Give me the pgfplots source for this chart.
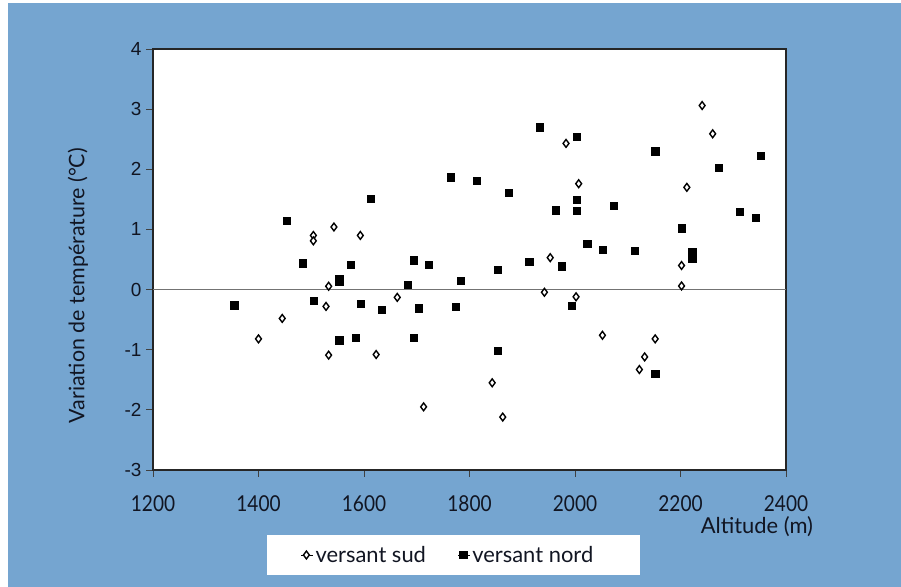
\documentclass[border=0pt]{standalone}
\usepackage{pgfplots}
\pgfplotsset{compat=1.18}
\usepackage{fontspec}
\setmainfont{Lato}
\newfontfamily\arial{Liberation Sans}
\newfontfamily\digits[FakeStretch=0.87]{Lato}
\definecolor{bgblue}{HTML}{75A5D0}
\definecolor{txt}{HTML}{111522}
\begin{document}
\begin{tikzpicture}[x=1bp,y=1bp]
\useasboundingbox (0,0) rectangle (901,587);
\fill[white] (0,0) rectangle (901,587);
\fill[bgblue] (8,0) rectangle (901,584);
\begin{axis}[
  at={(153bp,117bp)}, anchor=south west,
  width=633bp, height=421bp, scale only axis, clip=false,
  xmin=1200, xmax=2400, ymin=-3, ymax=4,
  xtick={1200,1400,...,2400}, ytick={-3,-2,...,4},
  axis background/.style={fill=white},
  axis line style={draw=black!85, line width=1.4bp},
  tick align=outside, major tick length=7bp,
  tick style={draw=black!75, line width=0.8bp},
  xtick pos=bottom, ytick pos=left,
  /pgf/number format/assume math mode=true,
  /pgf/number format/1000 sep={},
  xticklabel style={font=\digits\fontsize{22}{22}\selectfont, text=txt, yshift=-15bp},
  yticklabel style={font=\arial\fontsize{19}{19}\selectfont, text=txt, xshift=-1bp},
  ylabel={Variation de température (°C)},
  ylabel style={font=\fontsize{21.5}{21.5}\selectfont, text=txt, at={(rel axis cs:-0.1185,0.438)}, anchor=center},
  xlabel={Altitude (m)},
  xlabel style={font=\fontsize{22}{22}\selectfont, text=txt, at={(rel axis cs:0.954,-0.1354)}, anchor=center},
  legend columns=2,
  legend style={at={(rel axis cs:0.2338,-0.2019)}, anchor=west, draw=none, fill=none,
    font=\fontsize{22}{22}\selectfont, text=txt, inner xsep=0bp, inner ysep=0bp,
    /tikz/every even column/.append style={column sep=30bp}},
  legend image code/.code={\path (0bp,0bp) -- (12bp,0bp); \draw[#1] plot coordinates {(5bp,0bp)};},
]
\fill[white] (rel axis cs:0.1801,-0.1544) rectangle (rel axis cs:0.7694,-0.2494);
\addplot[gray!90!black, line width=0.8bp, forget plot] coordinates {(1200,0) (2400,0)};
\addplot[only marks, mark=diamond*, mark size=3.9bp, mark options={fill=white, draw=black, line width=1.4bp}] coordinates {
(1400,-0.82) (1445,-0.48) (1504,0.90) (1504,0.81) (1543,1.04) (1528,-0.28)
(1533,0.055) (1533,-1.09) (1593,0.90) (1623,-1.08) (1663,-0.13) (1713,-1.95)
(1843,-1.55) (1863,-2.12) (1942,-0.045) (1953,0.53) (1983,2.43) (2002,-0.12)
(2007,1.76) (2052,-0.76) (2122,-1.33) (2132,-1.12) (2152,-0.82) (2202,0.40)
(2202,0.06) (2212,1.70) (2241,3.06) (2261,2.59)
};
\addlegendentry{versant sud}
\addplot[only marks, mark=square*, mark size=3.6bp, mark options={fill=black, draw=black, line width=0.3bp}] coordinates {
(1354,-0.26) (1454,1.14) (1484,0.44) (1505,-0.19) (1553,0.18) (1553,0.13)
(1553,-0.84) (1574,0.42) (1584,-0.80) (1594,-0.23) (1613,1.51) (1633,-0.34)
(1683,0.08) (1694,0.49) (1694,-0.80) (1703,-0.31) (1723,0.42) (1764,1.87)
(1773,-0.28) (1783,0.15) (1814,1.81) (1853,0.33) (1853,-1.01) (1874,1.61)
(1913,0.47) (1933,2.70) (1963,1.32) (1974,0.39) (1993,-0.27) (2003,2.54)
(2003,1.50) (2003,1.31) (2023,0.76) (2053,0.66) (2073,1.39) (2113,0.65)
(2152,2.30) (2152,-1.40) (2202,1.02) (2222,0.63) (2222,0.51) (2272,2.03)
(2312,1.29) (2342,1.20) (2352,2.22)
};
\addlegendentry{versant nord}
\end{axis}
\end{tikzpicture}
\end{document}
